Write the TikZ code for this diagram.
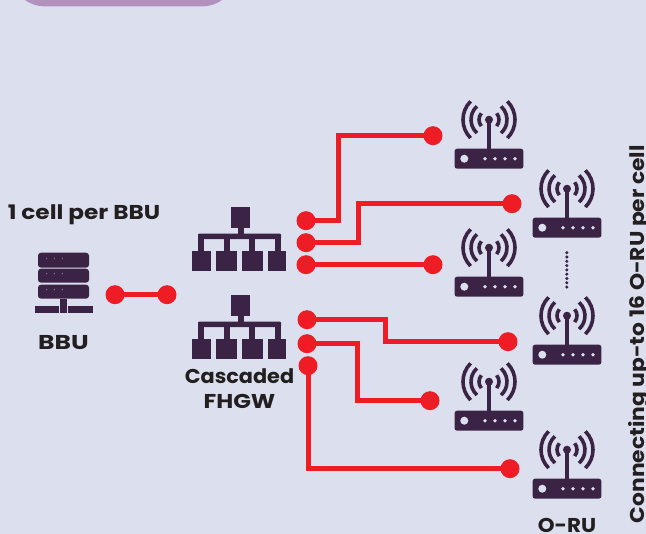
\documentclass[tikz,border=0pt]{standalone}
\usepackage{fontspec}
\setmainfont{Poppins}[BoldFont={Poppins Bold}]
\definecolor{bgc}{HTML}{DCE0EE}
\definecolor{plum}{HTML}{3B2346}
\definecolor{lilac}{HTML}{B291BE}
\definecolor{wirec}{HTML}{EE1C25}
\definecolor{inkc}{HTML}{231F20}
\tikzset{
  wire/.style={draw=wirec,line width=5pt,line join=miter},
  bigdot/.style={circle,fill=wirec,inner sep=0pt,minimum size=19pt},
  lab/.style={font=\bfseries\fontsize{20}{25}\selectfont,text=inkc,align=center,inner sep=0pt,anchor=base},
  router/.pic={
    \fill[plum] (-1.7,0) rectangle (1.7,29);
    \fill[plum] (0,0) circle[radius=4];
    \fill[plum,rounded corners=2.5pt] (-34.4,29) rectangle (34.4,49);
    \fill[bgc] (-24.7,39) circle[radius=4];
    \foreach \xx in {-4,6,16,26} \fill[bgc] (\xx,39) circle[radius=1.9];
    \foreach \rr/\aa in {10/40,18/48,26/45}{
      \draw[plum,line width=3.6pt] (0,0) ++(180-\aa:\rr) arc[start angle=180-\aa,end angle=180+\aa,radius=\rr];
      \draw[plum,line width=3.6pt] (0,0) ++(-\aa:\rr) arc[start angle=-\aa,end angle=\aa,radius=\rr];
    }
  },
  gateway/.pic={
    \fill[plum] (231,206) rectangle (250,227);
    \fill[plum] (237.5,227) rectangle (243.5,234);
    \fill[plum,rounded corners=1pt] (198,233) rectangle (281,238.5);
    \foreach \xa/\xb in {198/204,224/230,249/255,275/281} \fill[plum] (\xa,235) rectangle (\xb,251);
    \foreach \xa/\xb in {192/211.3,216/236.7,241.7/262.7,267.7/286} \fill[plum] (\xa,250) rectangle (\xb,270);
  },
}
\begin{document}
\begin{tikzpicture}[x=1pt,y=-1pt]
\useasboundingbox (0,0) rectangle (646,534);
\fill[bgc] (0,0) rectangle (646,534);
\fill[lilac] (25,0) .. controls (31,4.5) and (38,6.4) .. (46,6.4) -- (201,6.4) .. controls (209,6.4) and (216,4.5) .. (222,0) -- cycle;

\begin{scope}[yshift=-0.7pt]
% BBU
\foreach \ya/\yb in {252/267,268/282,284/298}{
  \fill[plum,rounded corners=3pt] (38,\ya) rectangle (89,\yb);
  \foreach \xx in {46.7,54.3,62.3} \fill[bgc!70!plum] (\xx,{(\ya+\yb)/2-2}) circle[radius=0.55];
}
\fill[plum] (60.3,298) rectangle (67.3,312);
\fill[plum] (35,305.3) rectangle (59.3,312);
\fill[plum] (68.3,305.3) rectangle (92.7,312);

% gateways
\pic at (0,0) {gateway};
\pic at (0,88) {gateway};

% routers
\pic at (489,119) {router};
\pic at (567,188) {router};
\pic at (489,247) {router};
\pic at (567,315) {router};
\pic at (489,381) {router};
\pic at (567,449) {router};

% dots between routers
\foreach \yy in {252,256.3,...,287.5} \fill[plum] (566.8,\yy) circle[radius=1.7];

% connector ends
\node[bigdot] (b1) at (115,294) {};
\node[bigdot] (b2) at (167,294) {};
\node[bigdot] (a1) at (306,220) {};
\node[bigdot] (a2) at (306,242) {};
\node[bigdot] (a3) at (306,264) {};
\node[bigdot] (c1) at (307,319) {};
\node[bigdot] (c2) at (307,343) {};
\node[bigdot] (c3) at (308,365) {};
\node[bigdot] (r1) at (433,135) {};
\node[bigdot] (r2) at (512,203) {};
\node[bigdot] (r3) at (433,264) {};
\node[bigdot] (r4) at (508,341) {};
\node[bigdot] (r5) at (430,400) {};
\node[bigdot] (r6) at (510,468) {};

\draw[wire] (b1.center) -- (b2.center);
\draw[wire] (a1.center) -- ++(32,0) |- (r1.center);
\draw[wire] (a2.center) -- ++(52,0) |- (r2.center);
\draw[wire] (a3.center) -- (r3.center);
\draw[wire] (c1.center) -- ++(78,0) |- (r4.center);
\draw[wire] (c2.center) -- ++(50,0) |- (r5.center);
\draw[wire] (c3.center) |- (r6.center);

% labels
\node[lab] (t1) at (84,219) {\scalebox{1.16}[1]{1 cell per BBU}};
\node[lab] (t2) at (63.5,349) {\scalebox{1.25}[1]{BBU}};
\node[lab] (t3) at (239.5,383) {\scalebox{1.04}[1]{Cascaded}};
\node[lab] (t3b) at (239.5,408) {\scalebox{1.16}[1]{FHGW}};
\node[lab] (t4) at (567,532) {\scalebox{1.07}[1]{O-RU}};
\node[lab,rotate=90] (t5) at (644,333.5) {\scalebox{1.09}[1]{Connecting up-to 16 O-RU per cell}};
\end{scope}
\end{tikzpicture}
\end{document}
